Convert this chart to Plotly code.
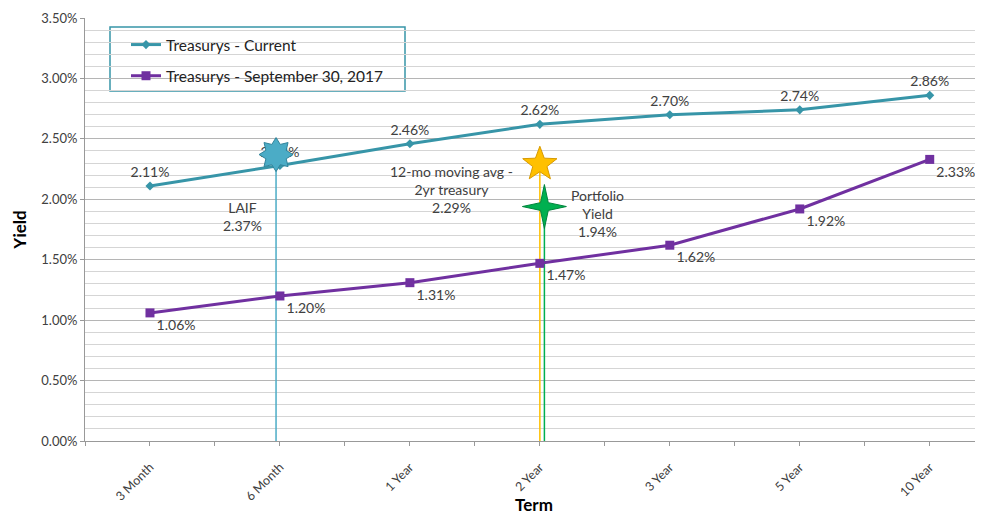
import math
import plotly.graph_objects as go

terms = ["3 Month", "6 Month", "1 Year", "2 Year", "3 Year", "5 Year", "10 Year"]
current = [0.0211, 0.0228, 0.0246, 0.0262, 0.0270, 0.0274, 0.0286]
sep2017 = [0.0106, 0.0120, 0.0131, 0.0147, 0.0162, 0.0192, 0.0233]

laif_value = 0.0237
mavg_value = 0.0229
portfolio_value = 0.0194

TEAL = "#3795A8"
PURPLE = "#7030A0"
TXT = "#404040"
FONT = "Lato"

OFF = 8  # page body margin
W, H = 983 - OFF, 515 - OFF
L, R, T, B = 85 - OFF, 0, 18 - OFF, 74
PW, PH = W - L - R, H - T - B

def px_x(px):
    return (px - OFF - L) / PW

def px_y(py):
    return (H - B - (py - OFF)) / PH

def star_path(n, r_out, r_in):
    pts = []
    for k in range(2 * n):
        ang = math.pi / 2 + k * math.pi / n
        r = r_out if k % 2 == 0 else r_in
        pts.append((r * math.cos(ang), r * math.sin(ang)))
    return "M " + " L ".join(f"{x:.2f},{y:.2f}" for x, y in pts) + " Z"

xi = list(range(len(terms)))
i6m = terms.index("6 Month")
i2y = terms.index("2 Year")
x_laif = i6m - 0.03
x_mavg = i2y
x_port = i2y + 0.035

fig = go.Figure()

# vertical benchmark lines
fig.add_trace(go.Scatter(x=[x_laif, x_laif], y=[0, laif_value], mode="lines",
                         line=dict(color="#4BACC6", width=1.5), showlegend=False, hoverinfo="skip"))
fig.add_trace(go.Scatter(x=[x_mavg, x_mavg], y=[0, mavg_value], mode="lines",
                         line=dict(color="#FFC000", width=1.5), showlegend=False, hoverinfo="skip"))
fig.add_trace(go.Scatter(x=[x_port, x_port], y=[0, portfolio_value], mode="lines",
                         line=dict(color="#00B050", width=1.5), showlegend=False, hoverinfo="skip"))

fig.add_trace(go.Scatter(
    x=xi, y=current, mode="lines+markers+text", name="Treasurys - Current",
    line=dict(color=TEAL, width=3), marker=dict(symbol="diamond", size=7, color=TEAL),
    text=[f"{v*100:.2f}%" for v in current], textposition="top center", cliponaxis=False,
    textfont=dict(size=14, color=TXT, family=FONT), legendgroup="a"))
fig.add_trace(go.Scatter(
    x=xi, y=sep2017, mode="lines+markers+text", name="Treasurys - September 30, 2017",
    line=dict(color=PURPLE, width=3), marker=dict(symbol="square", size=9, color=PURPLE),
    text=[f"{v*100:.2f}%" for v in sep2017], textposition="bottom right", cliponaxis=False,
    textfont=dict(size=14, color=TXT, family=FONT), legendgroup="b"))

# star markers (pixel-sized paths anchored at the data values)
stars = [
    (x_laif, laif_value, star_path(8, 17, 11), "#4BACC6", "#31849B"),
    (x_mavg, mavg_value, star_path(5, 18, 7.5), "#FFC000", "#D89A00"),
    (x_port, portfolio_value, star_path(4, 22, 5.5), "#00B050", "#00843C"),
]
for sx, sy, path, fill, edge in stars:
    fig.add_shape(type="path", xref="x", yref="y", xsizemode="pixel", ysizemode="pixel",
                  xanchor=sx, yanchor=sy, path=path, fillcolor=fill,
                  line=dict(color=edge, width=1), layer="above")

ann_font = dict(size=14, color=TXT, family=FONT)
fig.add_annotation(x=i6m - 0.285, y=0.0186, text=f"LAIF<br>{laif_value*100:.2f}%",
                   showarrow=False, font=ann_font, align="center")
fig.add_annotation(x=i2y - 0.68, y=0.0208,
                   text=f"12-mo moving avg -<br>2yr treasury<br>{mavg_value*100:.2f}%",
                   showarrow=False, font=ann_font, align="center")
fig.add_annotation(x=i2y + 0.446, y=0.0188,
                   text=f"Portfolio<br>Yield<br>{portfolio_value*100:.2f}%",
                   showarrow=False, font=ann_font, align="center")

# legend frame
fig.add_shape(type="rect", xref="paper", yref="paper",
              x0=px_x(110), x1=px_x(405), y0=px_y(91), y1=px_y(27),
              line=dict(color=TEAL, width=1.5), fillcolor="white", layer="below")

fig.update_layout(
    width=W, height=H,
    margin=dict(l=L, r=R, t=T, b=B, autoexpand=False),
    paper_bgcolor="white", plot_bgcolor="white",
    font=dict(family=FONT, color=TXT),
    legend=dict(x=px_x(126), y=px_y(28), xanchor="left", yanchor="top",
                borderwidth=0, bgcolor="rgba(0,0,0,0)",
                font=dict(size=15.5, color="#222", family=FONT),
                tracegroupgap=8, itemwidth=30),
    showlegend=True,
)
fig.update_xaxes(
    automargin=False,
    range=[-0.5, 6.41], tickvals=xi, ticktext=terms, tickangle=-45,
    tickfont=dict(size=12.5, color=TXT, family=FONT), ticklabelstandoff=9,
    showgrid=False, showline=True, linecolor="#999", linewidth=1,
    ticks="outside", ticklen=4, tickcolor="#999",
    minor=dict(ticks="outside", tick0=-0.5, dtick=1, ticklen=4, tickcolor="#999"),
    title=dict(text="<b>Term</b>", font=dict(size=17, color="#000", family=FONT), standoff=2),
    zeroline=False,
)
fig.update_yaxes(
    automargin=False,
    range=[0, 0.035], dtick=0.005, tickformat=".2%",
    tickfont=dict(size=13, color=TXT, family=FONT),
    showgrid=True, gridcolor="#B5B5B5", gridwidth=1,
    minor=dict(dtick=0.001, showgrid=True, gridcolor="#D5D5D5", gridwidth=1),
    showline=True, linecolor="#999", linewidth=1,
    ticks="outside", ticklen=4, tickcolor="#999",
    title=dict(text="<b>Yield</b>", font=dict(size=17, color="#000", family=FONT), standoff=10),
    zeroline=False,
)

fig.write_html("out.html")
